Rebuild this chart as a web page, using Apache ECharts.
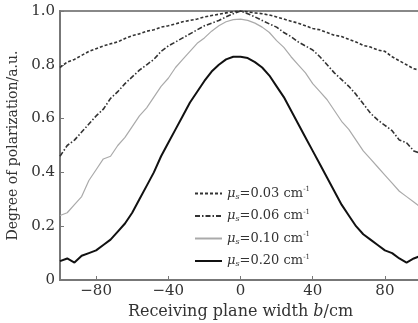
<!DOCTYPE html>
<html>
<head>
<meta charset="utf-8">
<script src="https://cdn.jsdelivr.net/npm/echarts@6/dist/echarts.min.js"></script>
<style>html,body{margin:0;padding:0;background:#fff}#c{width:418px;height:323px}</style>
</head>
<body>
<div id="c"></div>
<script>
var xValues = [-100,-96,-92,-88,-84,-80,-76,-72,-68,-64,-60,-56,-52,-48,-44,-40,-36,-32,-28,-24,-20,-16,-12,-8,-4,0,4,8,12,16,20,24,28,32,36,40,44,48,52,56,60,64,68,72,76,80,84,88,92,96,100];
var mu003 = [0.79,0.81,0.82,0.835,0.85,0.86,0.87,0.878,0.885,0.898,0.908,0.915,0.925,0.93,0.94,0.945,0.952,0.96,0.965,0.97,0.978,0.983,0.988,0.993,0.997,1.0,0.997,0.993,0.99,0.985,0.978,0.97,0.962,0.955,0.945,0.935,0.93,0.92,0.91,0.905,0.895,0.885,0.872,0.866,0.855,0.85,0.83,0.815,0.80,0.785,0.78];
var mu006 = [0.46,0.50,0.52,0.55,0.58,0.61,0.635,0.675,0.70,0.73,0.755,0.78,0.80,0.82,0.85,0.87,0.885,0.90,0.915,0.93,0.945,0.955,0.965,0.978,0.99,1.0,0.99,0.978,0.965,0.952,0.94,0.92,0.905,0.885,0.87,0.855,0.83,0.80,0.77,0.745,0.72,0.69,0.655,0.62,0.595,0.575,0.555,0.52,0.51,0.48,0.47];
var mu010 = [0.24,0.25,0.28,0.31,0.37,0.41,0.45,0.46,0.50,0.53,0.57,0.61,0.64,0.68,0.72,0.75,0.79,0.82,0.85,0.88,0.90,0.925,0.945,0.96,0.968,0.97,0.965,0.955,0.94,0.92,0.89,0.865,0.83,0.80,0.77,0.73,0.70,0.67,0.63,0.59,0.56,0.52,0.48,0.45,0.42,0.39,0.36,0.33,0.31,0.29,0.27];
var mu020 = [0.07,0.08,0.065,0.09,0.10,0.11,0.13,0.15,0.18,0.21,0.25,0.30,0.35,0.40,0.46,0.51,0.56,0.61,0.66,0.70,0.74,0.775,0.80,0.82,0.83,0.83,0.825,0.81,0.79,0.76,0.72,0.68,0.63,0.58,0.53,0.48,0.43,0.38,0.33,0.28,0.24,0.20,0.17,0.15,0.13,0.11,0.10,0.08,0.065,0.08,0.09];
var seriesNames = ['0.03','0.06','0.10','0.20'];
var xTicks = [-80,-40,0,40,80];

function pairs(ys){ return xValues.map(function(x,i){ return [x, ys[i]]; }); }
var serif = 'DejaVu Serif';
var chart = echarts.init(document.getElementById('c'));
chart.setOption({
  animation: false,
  grid: {left: 60, top: 11, right: -3, bottom: 43, show: true, borderColor: '#888', borderWidth: 2, containLabel: false, outerBoundsMode: 'none'},
  legend: {
    orient: 'vertical', left: 189, top: 181, itemGap: 8, itemWidth: 27, itemHeight: 14,
    data: seriesNames,
    itemStyle: {opacity: 0},
    formatter: function(n){ return '{mu|μ}{s|s}{t|=' + n + ' cm}{sup|-1}'; },
    textStyle: {
      fontFamily: serif, fontSize: 13, color: '#333',
      rich: {
        mu: {fontFamily: serif, fontStyle: 'italic', fontSize: 13, color: '#333'},
        s: {fontFamily: serif, fontStyle: 'italic', fontSize: 8, color: '#333', padding: [6,0,0,0]},
        t: {fontFamily: serif, fontSize: 13, color: '#333'},
        sup: {fontFamily: serif, fontSize: 7, color: '#333', padding: [0,0,8,0]}
      }
    }
  },
  xAxis: {
    type: 'value', min: -100, max: 100,
    name: '{a|Receiving plane width }{b|b}{a|/cm}', nameLocation: 'middle', nameGap: 24,
    nameTextStyle: {rich: {a: {fontFamily: serif, fontSize: 16, color: '#333'}, b: {fontFamily: serif, fontSize: 16, fontStyle: 'italic', color: '#333'}}},
    axisLine: {lineStyle: {color: '#777', width: 2}},
    axisTick: {inside: true, length: 4, customValues: xTicks, lineStyle: {color: '#777'}},
    axisLabel: {customValues: xTicks, fontFamily: serif, fontSize: 15, color: '#333', margin: 4,
      formatter: function(v){ return v < 0 ? '\u2212' + (-v) : String(v); }},
    splitLine: {show: false}
  },
  yAxis: {
    type: 'value', min: 0, max: 1, interval: 0.2,
    name: 'Degree of polarization/a.u.', nameLocation: 'middle', nameGap: 37,
    nameTextStyle: {fontFamily: serif, fontSize: 14, color: '#333'},
    axisLine: {show: true, onZero: false, lineStyle: {color: '#777', width: 2}},
    axisTick: {show: true, inside: true, length: 4, lineStyle: {color: '#777'}},
    axisLabel: {fontFamily: serif, fontSize: 15, color: '#333', margin: 5,
      formatter: function(v){ return v === 0 ? '0' : v.toFixed(1); }},
    splitLine: {show: false}
  },
  series: [
    {name: seriesNames[0], type: 'line', symbol: 'none', data: pairs(mu003), lineStyle: {color: '#333', width: 1.6, type: [3,2]}, itemStyle: {color: '#333'}},
    {name: seriesNames[1], type: 'line', symbol: 'none', data: pairs(mu006), lineStyle: {color: '#333', width: 1.6, type: [5,2,1.5,2]}, itemStyle: {color: '#333'}},
    {name: seriesNames[2], type: 'line', symbol: 'none', data: pairs(mu010), lineStyle: {color: '#aaa', width: 1.2, type: 'solid'}, itemStyle: {color: '#aaa'}},
    {name: seriesNames[3], type: 'line', symbol: 'none', data: pairs(mu020), lineStyle: {color: '#111', width: 2}, itemStyle: {color: '#111'}}
  ]
});
</script>
</body>
</html>
